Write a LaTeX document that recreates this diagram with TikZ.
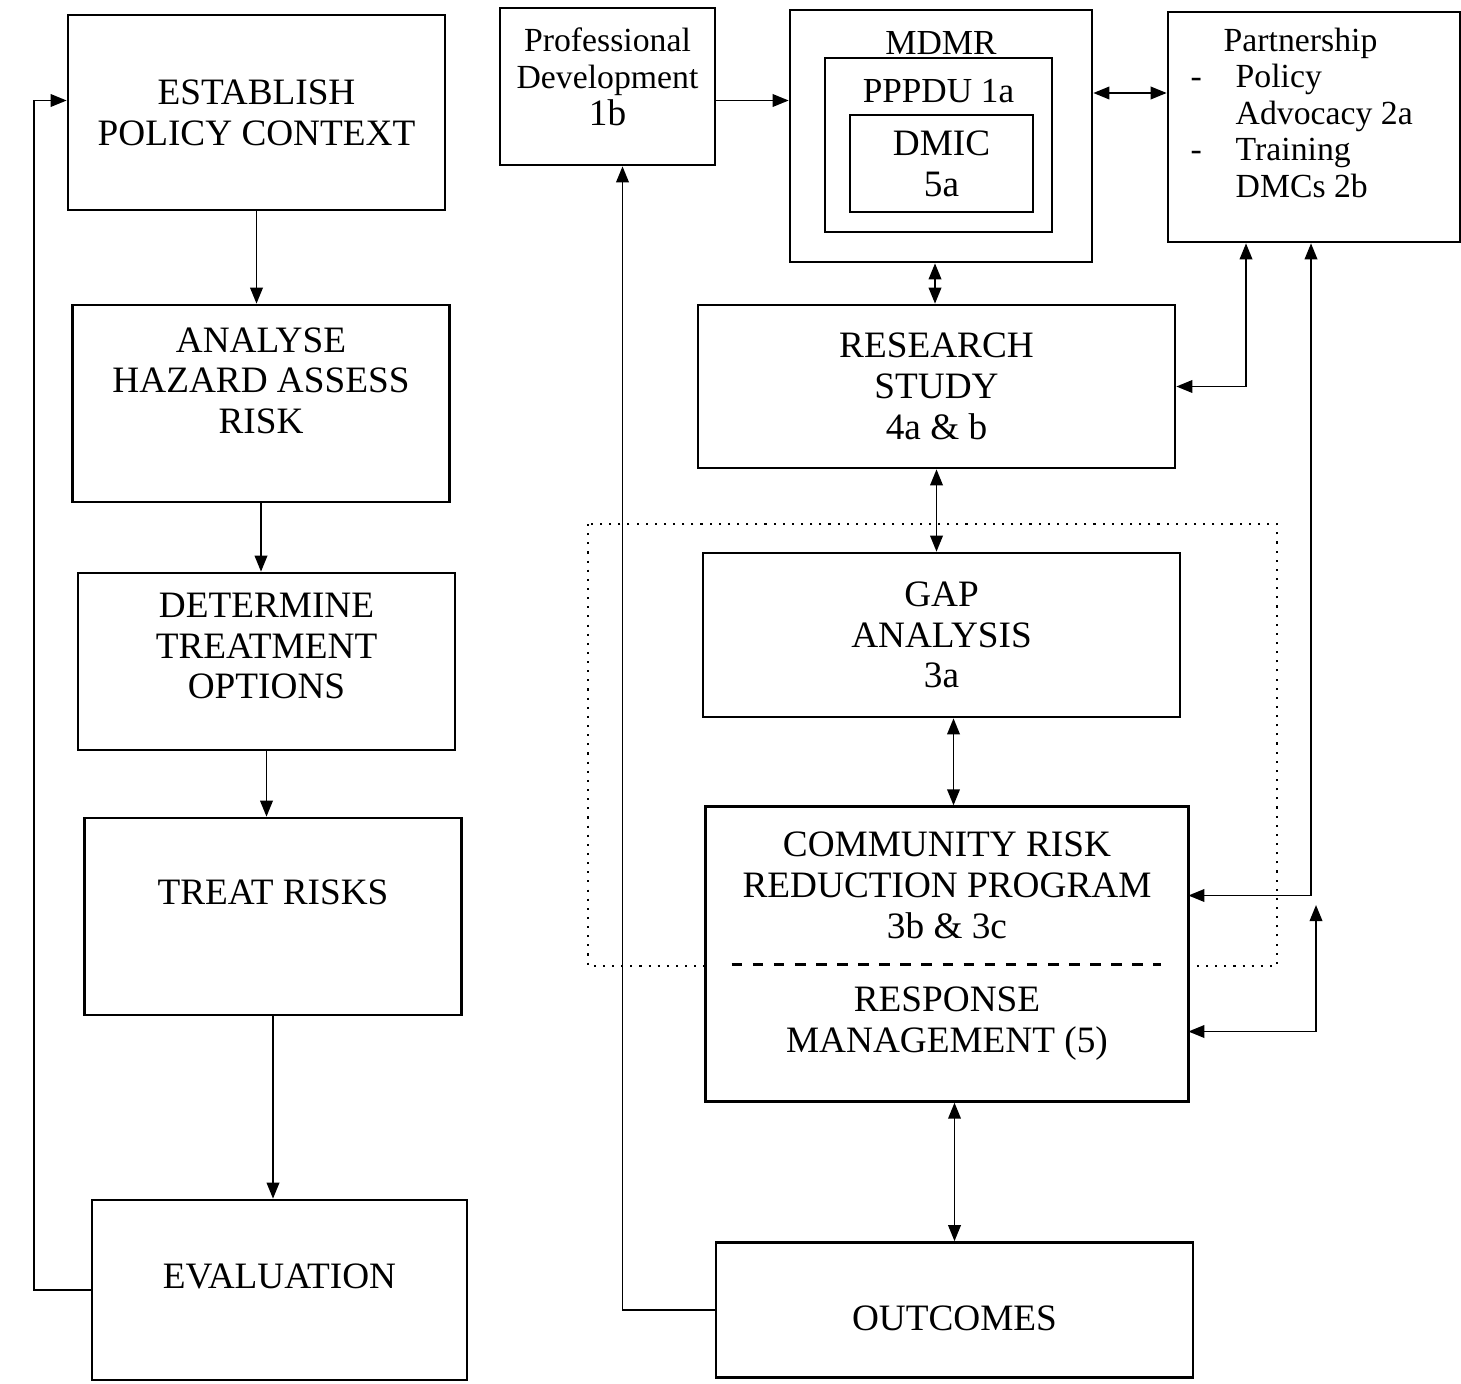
\documentclass[tikz,border=0pt]{standalone}
\usepackage{fontspec}
\setmainfont{Liberation Serif}
\usetikzlibrary{arrows.meta,positioning,fit}

\begin{document}
\begin{tikzpicture}[
    >={Triangle[length=1.6mm,width=1.25mm]},
    stepbox/.style={draw, line width=0.75pt, minimum width=3.77cm, inner sep=0pt, align=center, font=\fontsize{10.6}{11.6}\selectfont},
    unitbox/.style={draw, line width=0.75pt, minimum width=4.77cm, inner sep=0pt, align=center, font=\fontsize{10.6}{11.6}\selectfont},
    smallbox/.style={draw, line width=0.75pt, inner sep=0pt, align=center, font=\fontsize{9.6}{10.5}\selectfont},
    link/.style={line width=0.55pt}
]
\useasboundingbox (0,0) rectangle (14.61,-13.83);

\node[stepbox, minimum height=1.95cm] (est) at (2.565,-1.125) {ESTABLISH\\POLICY CONTEXT};
\node[stepbox, minimum height=1.97cm, text depth=0.46cm] (ana) at (2.61,-4.035) {ANALYSE\\HAZARD ASSESS\\RISK};
\node[stepbox, minimum height=1.77cm, text depth=0.31cm] (det) at (2.665,-6.615) {DETERMINE\\TREATMENT\\OPTIONS};
\node[stepbox, minimum height=1.97cm, text depth=0.49cm] (treat) at (2.73,-9.165) {TREAT RISKS};
\node[stepbox, minimum width=3.75cm, minimum height=1.8cm, text depth=0.28cm] (eval) at (2.795,-12.9) {EVALUATION};

\node[smallbox, minimum width=2.15cm, minimum height=1.57cm, text depth=0.19cm] (prof) at (6.075,-0.865) {Professional\\Development\\{\fontsize{10.6}{11}\selectfont 1b}};

\node[unitbox, minimum width=3.02cm, minimum height=2.52cm,
      label={[anchor=north, yshift=-0.1cm]north:MDMR}] (mdmr) at (9.41,-1.36) {};
\node[unitbox, minimum width=2.27cm, minimum height=1.74cm,
      label={[anchor=north, yshift=-0.1cm]north:PPPDU 1a}] (pppdu) at (9.385,-1.45) {};
\node[unitbox, minimum width=1.83cm, minimum height=0.97cm] (dmic) at (9.415,-1.635) {DMIC\\5a};

\node[smallbox, minimum width=2.92cm, minimum height=2.3cm] (part) at (13.14,-1.27) {};
\node[anchor=north west, inner sep=0pt, font=\fontsize{9.6}{10.4}\selectfont] (parttext) at (11.9,-0.25)
    {\begin{tabular}{@{}p{0.45cm}@{}l@{}}
     \multicolumn{2}{@{\hspace{0.33cm}}l@{}}{Partnership}\\
     - & Policy\\
       & Advocacy 2a\\
     - & Training\\
       & DMCs 2b
     \end{tabular}};

\node[unitbox, minimum height=1.63cm] (res) at (9.365,-3.865) {RESEARCH\\STUDY\\4a \& b};
\node[unitbox, minimum height=1.64cm] (gap) at (9.415,-6.35) {GAP\\ANALYSIS\\3a};

\draw[dotted, line width=0.6pt] (5.88,-5.24) rectangle (12.77,-9.66);

\node[unitbox, draw=none, fill=white, minimum width=4.8cm, minimum height=1.55cm] (crp) at (9.47,-8.855) {COMMUNITY RISK\\REDUCTION PROGRAM\\3b \& 3c};
\node[unitbox, draw=none, fill=white, minimum width=4.8cm, minimum height=1.37cm, text depth=0.23cm] (resp) at (9.47,-10.315) {RESPONSE\\MANAGEMENT (5)};
\node[draw, line width=0.75pt, inner sep=0pt, fit=(crp)(resp)] (crpbox) {};
\draw[dashed, line width=0.9pt] ([xshift=0.26cm]crp.south west) -- ([xshift=-0.27cm]crp.south east);

\node[unitbox, minimum height=1.35cm, text height=0.41cm] (out) at (9.545,-13.1) {OUTCOMES};

\coordinate (respup) at (13.16,-9.05);

\draw[->, link] (est.south) -- (est.south |- ana.north);
\draw[->, link] (ana.south) -- (ana.south |- det.north);
\draw[->, link] (det.south) -- (det.south |- treat.north);
\draw[->, link] (treat.south) -- (treat.south |- eval.north);
\draw[->, link] (eval.west) -- ++(-0.57,0) |- ([yshift=0.12cm]est.west);

\draw[->, link] (out.west) -| ([xshift=0.15cm]prof.south);
\draw[->, link] ([yshift=-0.14cm]prof.east) -- ([yshift=-0.14cm]prof.east -| mdmr.west);
\draw[<->, link] ([yshift=0.43cm]mdmr.east) -- ([yshift=0.43cm]mdmr.east -| part.west);
\draw[<->, link] ([xshift=-0.06cm]mdmr.south) -- ([xshift=-0.06cm]mdmr.south |- res.north);
\draw[<->, link] (res.south) -- (res.south |- gap.north);
\draw[<->, link] ([xshift=0.12cm]gap.south) -- ([xshift=0.12cm]gap.south |- crpbox.north);
\draw[<->, link] (out.north) -- (out.north |- crpbox.south);

\draw[<->, link] ([xshift=-0.68cm]part.south) |- (res.east);
\draw[<->, link] ([xshift=-0.03cm]part.south) |- ([yshift=-0.1cm]crp.east);
\draw[<->, link] (respup) |- (resp.east);
\end{tikzpicture}
\end{document}
